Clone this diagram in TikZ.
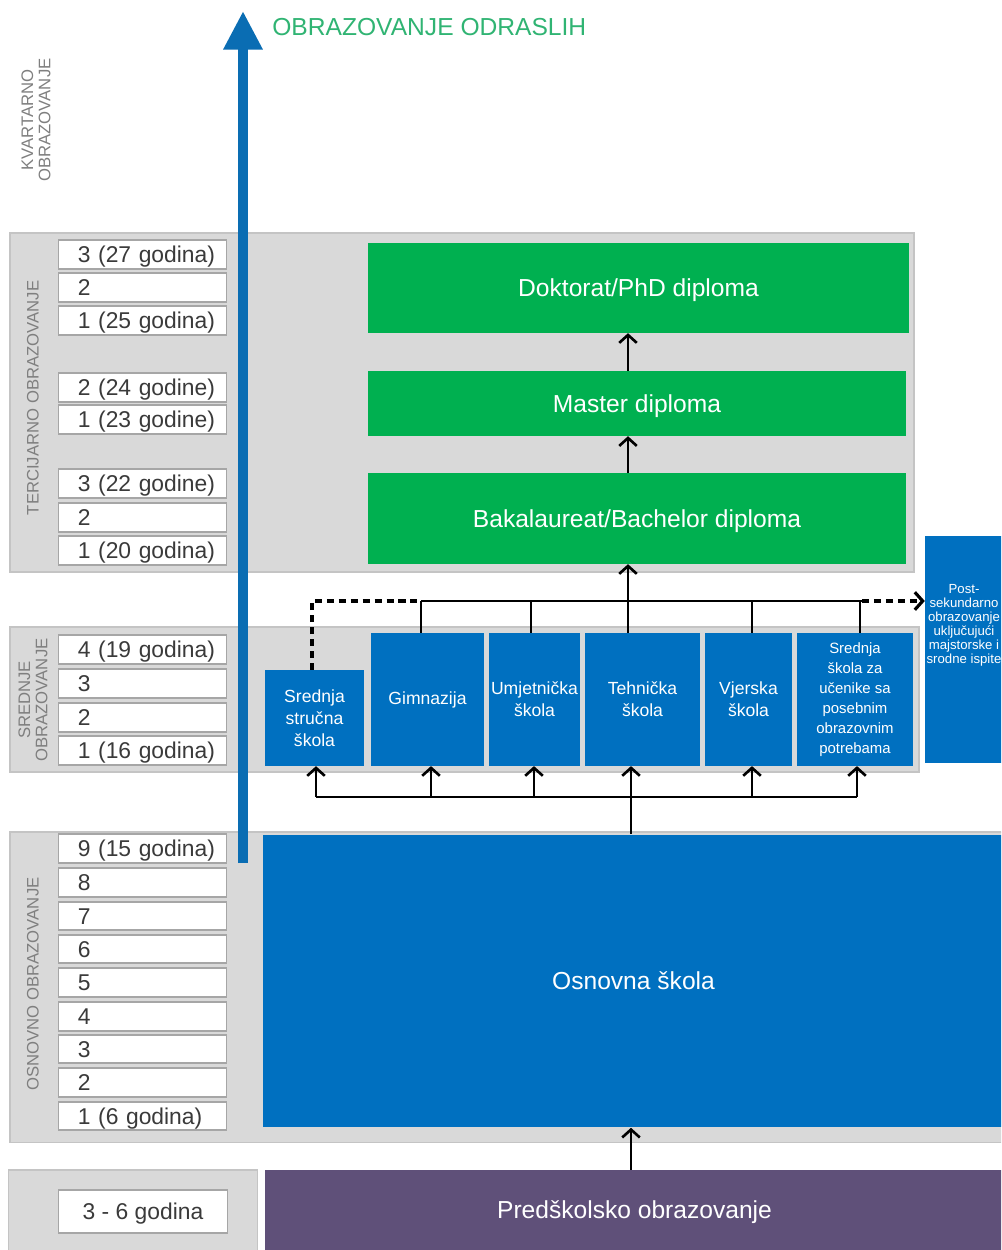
\documentclass[tikz,border=0pt]{standalone}
\usepackage{fontspec}
\setmainfont{Liberation Sans}
\usetikzlibrary{arrows.meta}
\definecolor{bandgray}{HTML}{D9D9D9}
\definecolor{bandline}{HTML}{C4C4C4}
\definecolor{yrline}{HTML}{A6A6A6}
\definecolor{eduBlue}{HTML}{0070C0}
\definecolor{arrBlue}{HTML}{0A6DB3}
\definecolor{eduGreen}{HTML}{00B050}
\definecolor{eduPurple}{HTML}{5F5079}
\definecolor{txtGreen}{HTML}{30B473}
\definecolor{lblGray}{HTML}{7F7F7F}
\definecolor{yrText}{HTML}{3A3A3A}
\tikzset{
  band/.style={fill=bandgray, draw=bandline, line width=1pt},
  yearbox/.style={fill=white, draw=yrline, line width=0.8pt,
    text width=90pt, align=left, text=yrText,
    execute at begin node={\hspace*{8.2pt}},
    font=\fontsize{13}{15}\selectfont, text height=9.3pt, text depth=0pt},
  prebox/.style={fill=white, draw=yrline, line width=0.8pt,
    align=center, text=yrText, font=\fontsize{13}{15}\selectfont, text height=9.3pt, text depth=0pt},
  vlabel/.style={text=lblGray, font=\fontsize{9.5}{9.8}\selectfont, align=center, inner sep=0pt},
  greenbox/.style={fill=eduGreen, text=white, font=\fontsize{14}{17}\selectfont, text height=10pt, text depth=0pt},
  bluebox/.style={fill=eduBlue, text=white, align=center, font=\fontsize{10}{12.5}\selectfont},
  bigbox/.style={text=white, font=\fontsize{14}{17}\selectfont, text height=10pt, text depth=0pt},
  conn/.style={draw=black, line width=1.5pt},
  barb/.style={-{Straight Barb[length=4.5pt,width=10pt]}},
  arr/.style={conn, barb},
  dotl/.style={conn, line width=1.8pt, dash pattern=on 4pt off 2.8pt},
  bigarrow/.style={draw=arrBlue, line width=5.8pt, -{Triangle[length=22pt,width=21pt]}}
}
% \pbox{style}{name}{x1}{y1}{x2}{y2}{text}  (pixel coordinates)
\newcommand\pbox[7]{\node[inner sep=0pt, #1, minimum width={(#5-#3)*0.56693pt}, minimum height={(#6-#4)*0.56693pt}] (#2) at ({(#3+#5)/2},{(#4+#6)/2}) {#7};}
\newcommand\yb[4]{\pbox{yearbox}{#1}{58}{#2}{227}{#3}{#4}}
\begin{document}
\begin{tikzpicture}[x=0.02cm,y=-0.02cm]
\useasboundingbox (0,0) rectangle (1001,1250);
\clip (0,0) rectangle (1001,1250);
\fill[white] (0,0) rectangle (1001,1250);

% bands
\pbox{band}{terB}{8}{232}{916}{573}{}
\pbox{band}{sreB}{8}{627}{921}{772}{}
\pbox{band}{osnB}{8}{831}{1012}{1143}{}
\pbox{band}{preB}{8}{1170}{258}{1262}{}

% side labels
\node[vlabel, rotate=90] (kvaL) at (36,120) {KVARTARNO\\OBRAZOVANJE};
\node[vlabel, rotate=90] (terL) at (33,398) {TERCIJARNO OBRAZOVANJE};
\node[vlabel, rotate=90] (sreL) at (33,700) {SREDNJE\\OBRAZOVANJE};
\node[vlabel, rotate=90] (osnL) at (33,984) {OSNOVNO OBRAZOVANJE};

% year boxes
\yb{t1}{240}{269}{3 (27 godina)}
\yb{t2}{273}{302}{2}
\yb{t3}{306}{335}{1 (25 godina)}
\yb{t4}{373}{402}{2 (24 godine)}
\yb{t5}{405}{434}{1 (23 godine)}
\yb{t6}{469}{498}{3 (22 godine)}
\yb{t7}{503}{532}{2}
\yb{t8}{536}{565}{1 (20 godina)}
\yb{s4}{635}{664}{4 (19 godina)}
\yb{s3}{669}{698}{3}
\yb{s2}{703}{732}{2}
\yb{s1}{736}{765}{1 (16 godina)}
\yb{o9}{834}{863}{9 (15 godina)}
\yb{o8}{868}{897}{8}
\yb{o7}{902}{930}{7}
\yb{o6}{935}{963}{6}
\yb{o5}{968}{997}{5}
\yb{o4}{1002}{1031}{4}
\yb{o3}{1035}{1063}{3}
\yb{o2}{1068}{1097}{2}
\yb{o1}{1102}{1130}{1 (6 godina)}
\pbox{prebox}{pr}{58}{1190}{228}{1233}{3 - 6 godina}

% tertiary
\pbox{greenbox}{dok}{367}{243}{910}{333}{Doktorat/PhD diploma}
\pbox{greenbox}{mas}{367}{371}{907}{436}{Master diploma}
\pbox{greenbox}{bac}{367}{473}{907}{564}{Bakalaureat/Bachelor diploma}

% secondary
\pbox{bluebox}{ssk}{265}{670}{364}{766}{Srednja\\stručna\\škola}
\pbox{bluebox}{gim}{371}{633}{484}{766}{Gimnazija}
\pbox{bluebox}{umj}{489}{633}{580}{766}{Umjetnička\\škola}
\pbox{bluebox}{teh}{585}{633}{700}{766}{Tehnička\\škola}
\pbox{bluebox}{vje}{705}{633}{792}{766}{Vjerska\\škola}
\pbox{bluebox, font=\fontsize{8.5}{11.3}\selectfont}{spo}{797}{633}{913}{766}{Srednja\\škola za\\učenike sa\\posebnim\\obrazovnim\\potrebama}
\pbox{bluebox}{post}{925}{536}{1017}{763}{}
\node[text=white, align=center, inner sep=0pt, font=\fontsize{7.5}{8}\selectfont] (postt) at (964,625) {Post-\\sekundarno\\obrazovanje\\uključujući\\majstorske i\\srodne ispite};

% primary and preschool
\pbox{bigbox, fill=eduBlue}{osn}{262}{834}{1005}{1128}{Osnovna škola}
\pbox{bigbox, fill=eduPurple}{pre}{264}{1170}{1005}{1250}{Predškolsko obrazovanje}

% adult education arrow
\coordinate (aBot) at (243,863);
\coordinate (aTop) at (243,11);
\draw[bigarrow] (aBot) -- (aTop);
\node[anchor=west, text=txtGreen, font=\fontsize{14}{17}\selectfont, inner sep=0pt] (odr) at (272,27) {OBRAZOVANJE ODRASLIH};

% upper bus
\coordinate (cL) at (312,601);
\coordinate (cG) at (421,601);
\coordinate (cU) at (531,601);
\coordinate (cT) at (628,601);
\coordinate (cV) at (752,601);
\coordinate (cS) at (860,601);
\coordinate (cR) at (862,601);
\draw[conn] (cG) -- (cR);
\draw[conn] (gim.north -| cG) -- (cG);
\draw[conn] (umj.north -| cU) -- (cU);
\draw[conn] (vje.north -| cV) -- (cV);
\draw[conn] (spo.north -| cS) -- (cS);
\draw[arr] (teh.north -| cT) -- (bac.south -| cT);
\draw[dotl] (ssk.north -| cL) -- (cL) -- (cG);
\draw[dotl, barb] (cR) -- (post.west |- cR);
\draw[arr] (bac.north -| cT) -- (mas.south -| cT);
\draw[arr] (mas.north -| cT) -- (dok.south -| cT);

% lower bus
\coordinate (dS) at (316,797);
\coordinate (dG) at (431,797);
\coordinate (dU) at (534,797);
\coordinate (dT) at (631,797);
\coordinate (dV) at (752,797);
\coordinate (dP) at (857,797);
\draw[conn] (dS) -- (dP);
\draw[arr] (dS) -- (ssk.south -| dS);
\draw[arr] (dG) -- (gim.south -| dG);
\draw[arr] (dU) -- (umj.south -| dU);
\draw[arr] (dT) -- (teh.south -| dT);
\draw[arr] (dV) -- (vje.south -| dV);
\draw[arr] (dP) -- (spo.south -| dP);
\draw[conn] (osn.north -| dT) -- (dT);
\draw[arr] (pre.north -| dT) -- (osn.south -| dT);
\end{tikzpicture}
\end{document}
